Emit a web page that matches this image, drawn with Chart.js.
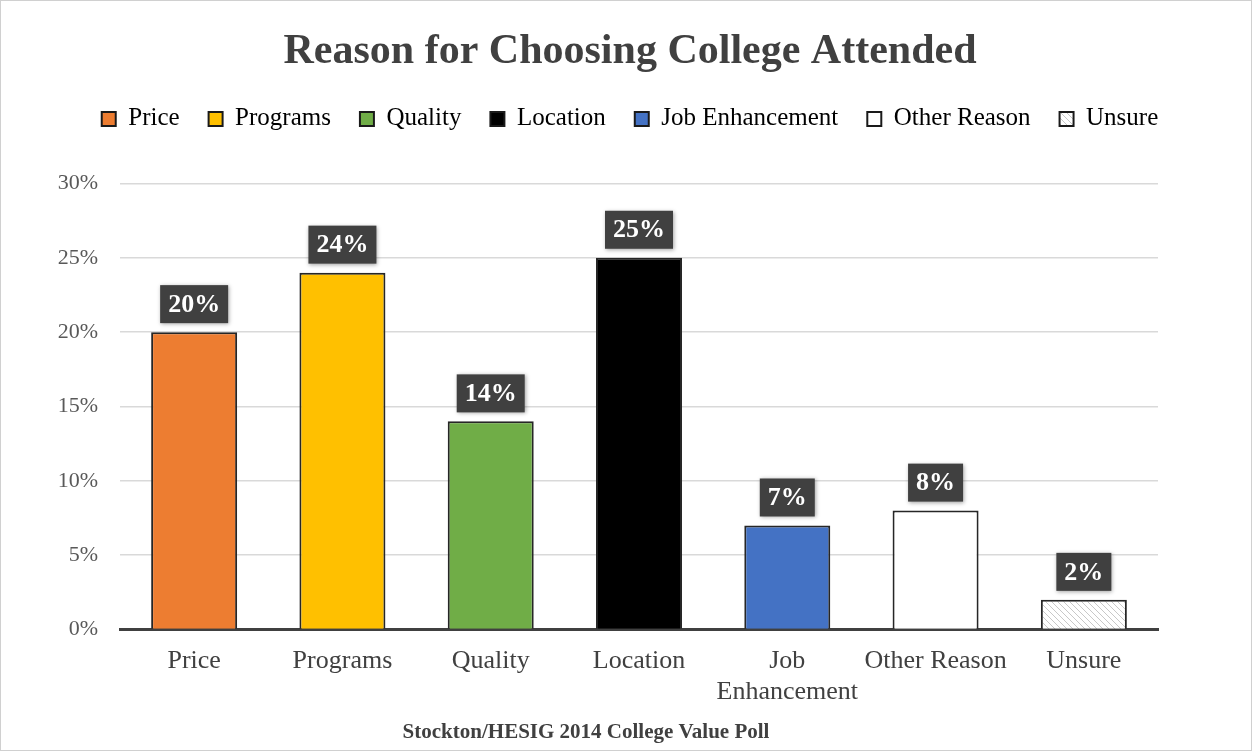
<!DOCTYPE html>
<html>
<head>
<meta charset="utf-8">
<script src="https://cdn.jsdelivr.net/npm/chart.js@4.4.1/dist/chart.umd.min.js"></script>
<style>
  html, body { margin: 0; padding: 0; background: #fff; }
  #wrap { position: relative; width: 1250px; height: 749px; border: 1px solid #d0d0d0; }
</style>
</head>
<body>
<div id="wrap"><canvas id="chart"></canvas></div>
<script>
const categories = ["Price", "Programs", "Quality", "Location", ["Job", "Enhancement"], "Other Reason", "Unsure"];
const legendNames = ["Price", "Programs", "Quality", "Location", "Job Enhancement", "Other Reason", "Unsure"];
const shares = [20, 24, 14, 25, 7, 8, 2];
const yTicks = [0, 5, 10, 15, 20, 25, 30];
const footerText = "Stockton/HESIG 2014 College Value Poll";

const SERIF = "'Liberation Serif', 'Times New Roman', serif";
const TEXT = "#404040";

// light diagonal hatch for the "Unsure" bar
function hatchPattern() {
  const c = document.createElement("canvas");
  c.width = 6; c.height = 6;
  const g = c.getContext("2d");
  g.fillStyle = "#fff";
  g.fillRect(0, 0, 6, 6);
  g.strokeStyle = "#c8c8c8";
  g.lineWidth = 1;
  g.beginPath();
  g.moveTo(0, 0); g.lineTo(6, 6);
  g.moveTo(-3, 3); g.lineTo(3, 9);
  g.moveTo(3, -3); g.lineTo(9, 3);
  g.stroke();
  return g.createPattern(c, "repeat");
}

const fills = ["#ed7d31", "#ffc000", "#70ad47", "#000000", "#4472c4", "#ffffff", hatchPattern()];

// dark value boxes above each bar
const valueBoxes = {
  id: "valueBoxes",
  afterDatasetsDraw(chart) {
    const ctx = chart.ctx;
    const meta = chart.getDatasetMeta(0);
    ctx.save();
    ctx.font = "bold 26px " + SERIF;
    ctx.textAlign = "center";
    ctx.textBaseline = "middle";
    meta.data.forEach((bar, i) => {
      const txt = shares[i] + "%";
      const w = ctx.measureText(txt).width + 16;
      const h = 38;
      const x = bar.x - w / 2;
      const y = bar.y - 9 - h;
      ctx.shadowColor = "rgba(0,0,0,0.35)";
      ctx.shadowBlur = 4;
      ctx.shadowOffsetX = 1;
      ctx.shadowOffsetY = 1;
      ctx.fillStyle = "#404040";
      ctx.fillRect(x, y, w, h);
      ctx.shadowColor = "transparent";
      ctx.fillStyle = "#fff";
      ctx.fillText(txt, bar.x, y + h / 2 + 1);
    });
    ctx.restore();
  }
};

// extra room under the legend, plus the source line at the bottom
const legendGap = {
  id: "legendGap",
  beforeLayout(chart) {
    const lg = chart.legend;
    if (lg && !lg._gapPatched) {
      const fit = lg.fit;
      lg.fit = function () { fit.call(this); this.height += 42; };
      lg._gapPatched = true;
    }
  },
  afterDraw(chart) {
    const ctx = chart.ctx;
    ctx.save();
    ctx.font = "bold 21px " + SERIF;
    ctx.fillStyle = TEXT;
    ctx.textAlign = "center";
    ctx.textBaseline = "middle";
    ctx.fillText(footerText, 585, 732);
    ctx.restore();
  }
};

new Chart(document.getElementById("chart"), {
  type: "bar",
  data: {
    labels: categories,
    datasets: [{
      data: shares,
      backgroundColor: fills,
      borderColor: "#262626",
      borderWidth: 2,
      barPercentage: 0.58,
      categoryPercentage: 1.0
    }]
  },
  options: {
    responsive: true,
    maintainAspectRatio: false,
    animation: false,
    layout: { padding: { left: 55, right: 47, top: 16, bottom: 26 } },
    plugins: {
      title: {
        display: true,
        text: "Reason for Choosing College Attended",
        color: TEXT,
        font: { family: SERIF, size: 42, weight: "bold" },
        padding: { top: 10, bottom: 0 }
      },
      legend: {
        display: true,
        position: "top",
        labels: {
          color: TEXT,
          font: { family: SERIF, size: 25 },
          boxWidth: 14,
          boxHeight: 14,
          padding: 29,
          generateLabels: () => legendNames.map((name, i) => ({
            text: name,
            fillStyle: fills[i],
            strokeStyle: "#1a1a1a",
            lineWidth: 2,
            hidden: false,
            index: i
          }))
        },
        onClick: () => {}
      },
      tooltip: { enabled: false }
    },
    scales: {
      x: {
        grid: { display: false, drawTicks: false },
        border: { color: "#404040", width: 3 },
        ticks: {
          color: TEXT,
          font: { family: SERIF, size: 26 },
          padding: 16,
          maxRotation: 0,
          autoSkip: false
        }
      },
      y: {
        min: 0,
        max: 30,
        afterBuildTicks: (axis) => { axis.ticks = yTicks.map(v => ({ value: v })); },
        afterFit: (axis) => { axis.width = 64; },
        grid: { color: "#d9d9d9", lineWidth: 1.5, drawTicks: false },
        border: { display: false },
        ticks: {
          color: "#595959",
          font: { family: SERIF, size: 22 },
          padding: 22,
          callback: (v) => v + "%"
        }
      },
      // empty right-hand axis that only keeps space beside the plot
      yPad: {
        position: "right",
        display: true,
        afterFit: (axis) => { axis.width = 46; },
        grid: { display: false, drawTicks: false },
        border: { display: false },
        ticks: { display: false }
      }
    }
  },
  plugins: [valueBoxes, legendGap]
});
</script>
</body>
</html>
